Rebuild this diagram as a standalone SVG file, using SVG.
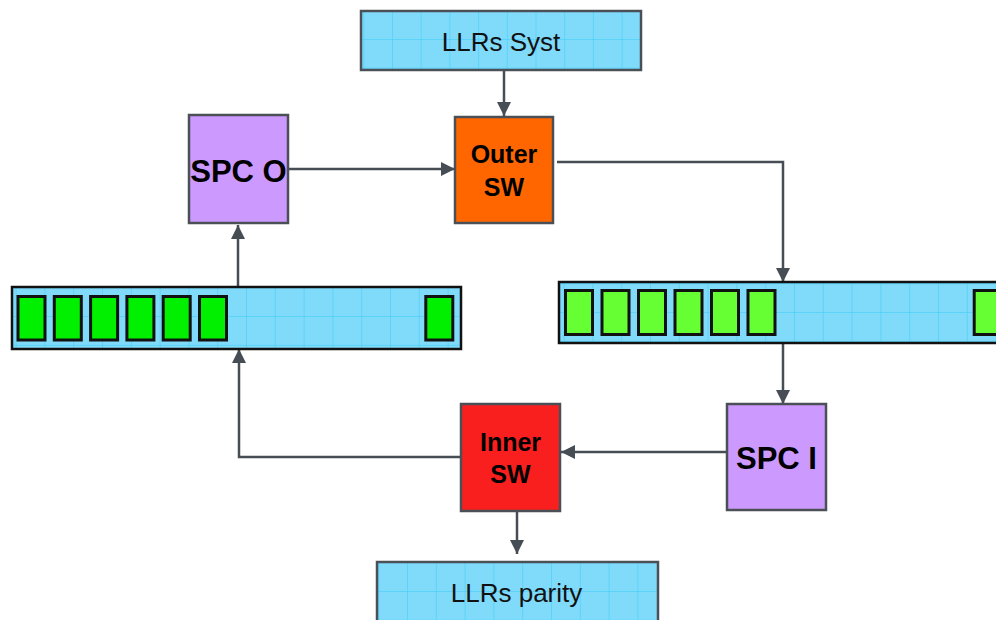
<svg xmlns="http://www.w3.org/2000/svg" width="996" height="620" viewBox="0 0 996 620">
<style>
.box{stroke:#4b5057;stroke-width:2.5}
.bar{stroke:#111;stroke-width:2.5}
.cellA{fill:#00f000;stroke:#111;stroke-width:3}
.cellB{fill:#66ff33;stroke:#111;stroke-width:3}
.lbl{font-family:"Liberation Sans",Arial,sans-serif;font-size:26px;fill:#111;text-anchor:middle}
.bold{font-family:"Liberation Sans",Arial,sans-serif;font-weight:bold;fill:#000;text-anchor:middle}
.conn{fill:none;stroke:#474d55;stroke-width:2.5}
</style>
<defs>
<marker id="ah" markerWidth="14" markerHeight="14" viewBox="0 0 14 14" refX="14" refY="7" orient="auto" markerUnits="userSpaceOnUse">
<path d="M0,0 L14,7 L0,14 Z" fill="#474d55"/>
</marker>
<pattern id="g1" patternUnits="userSpaceOnUse" x="392" y="39" width="28.7" height="28.7"><rect width="28.7" height="28.7" fill="#80dafa"/><path d="M0,0 H28.7 M0,0 V28.7" stroke="#3dcdf8" stroke-width="1"/></pattern>
<pattern id="g2" patternUnits="userSpaceOnUse" x="246" y="316" width="28.8" height="28.8"><rect width="28.8" height="28.8" fill="#80dafa"/><path d="M0,0 H28.8 M0,0 V28.8" stroke="#3dcdf8" stroke-width="1"/></pattern>
<pattern id="g3" patternUnits="userSpaceOnUse" x="794" y="312" width="28.8" height="28.8"><rect width="28.8" height="28.8" fill="#80dafa"/><path d="M0,0 H28.8 M0,0 V28.8" stroke="#3dcdf8" stroke-width="1"/></pattern>
<pattern id="g4" patternUnits="userSpaceOnUse" x="407" y="591" width="28.8" height="28.8"><rect width="28.8" height="28.8" fill="#80dafa"/><path d="M0,0 H28.8 M0,0 V28.8" stroke="#3dcdf8" stroke-width="1"/></pattern>
</defs>

<g id="connectors">
<path class="conn" d="M504,71 V116" marker-end="url(#ah)"/>
<path class="conn" d="M288,169 H455" marker-end="url(#ah)"/>
<path class="conn" d="M557,162 H783 V282" marker-end="url(#ah)"/>
<path class="conn" d="M238,287 V225" marker-end="url(#ah)"/>
<path class="conn" d="M783,343 V404" marker-end="url(#ah)"/>
<path class="conn" d="M727,452 H561" marker-end="url(#ah)"/>
<path class="conn" d="M461,457 H239 V349" marker-end="url(#ah)"/>
<path class="conn" d="M517,511 V554" marker-end="url(#ah)"/>
</g>

<g id="llrs-syst">
<rect class="box" x="361" y="11" width="280" height="59" fill="url(#g1)"/>
<text class="lbl" x="501" y="51">LLRs Syst</text>
</g>

<g id="outer-sw">
<rect class="box" x="455" y="117" width="98" height="106" fill="#ff6600"/>
<text class="bold" x="504" y="163" font-size="25">Outer</text>
<text class="bold" x="504" y="196" font-size="25">SW</text>
</g>

<g id="spc-o">
<rect class="box" x="189" y="115" width="99" height="108" fill="#cc99ff"/>
<text class="bold" x="238.5" y="182" font-size="31">SPC O</text>
</g>

<g id="buffer-left">
<rect class="bar" x="12" y="287" width="449" height="62" fill="url(#g2)"/>
<rect class="cellA" x="18" y="296.5" width="27" height="43.5"/>
<rect class="cellA" x="54.3" y="296.5" width="27" height="43.5"/>
<rect class="cellA" x="90.6" y="296.5" width="27" height="43.5"/>
<rect class="cellA" x="126.9" y="296.5" width="27" height="43.5"/>
<rect class="cellA" x="163.2" y="296.5" width="27" height="43.5"/>
<rect class="cellA" x="199.5" y="296.5" width="27" height="43.5"/>
<rect class="cellA" x="425.8" y="296.5" width="27" height="43.5"/>
</g>

<g id="buffer-right">
<rect class="bar" x="559" y="282" width="450" height="61" fill="url(#g3)"/>
<rect class="cellB" x="565.5" y="290.5" width="27" height="44"/>
<rect class="cellB" x="602" y="290.5" width="27" height="44"/>
<rect class="cellB" x="638.5" y="290.5" width="27" height="44"/>
<rect class="cellB" x="675" y="290.5" width="27" height="44"/>
<rect class="cellB" x="711.5" y="290.5" width="27" height="44"/>
<rect class="cellB" x="748" y="290.5" width="27" height="44"/>
<rect class="cellB" x="974.2" y="290.5" width="27" height="44"/>
</g>

<g id="inner-sw">
<rect class="box" x="461" y="404" width="99" height="107" fill="#f91f1f"/>
<text class="bold" x="510.5" y="451" font-size="25">Inner</text>
<text class="bold" x="510.5" y="483" font-size="25">SW</text>
</g>

<g id="spc-i">
<rect class="box" x="727" y="404" width="99" height="106" fill="#cc99ff"/>
<text class="bold" x="776.5" y="469" font-size="31">SPC I</text>
</g>

<g id="llrs-parity">
<rect class="box" x="377" y="562" width="281" height="60" fill="url(#g4)"/>
<text class="lbl" x="516.5" y="602">LLRs parity</text>
</g>
</svg>
